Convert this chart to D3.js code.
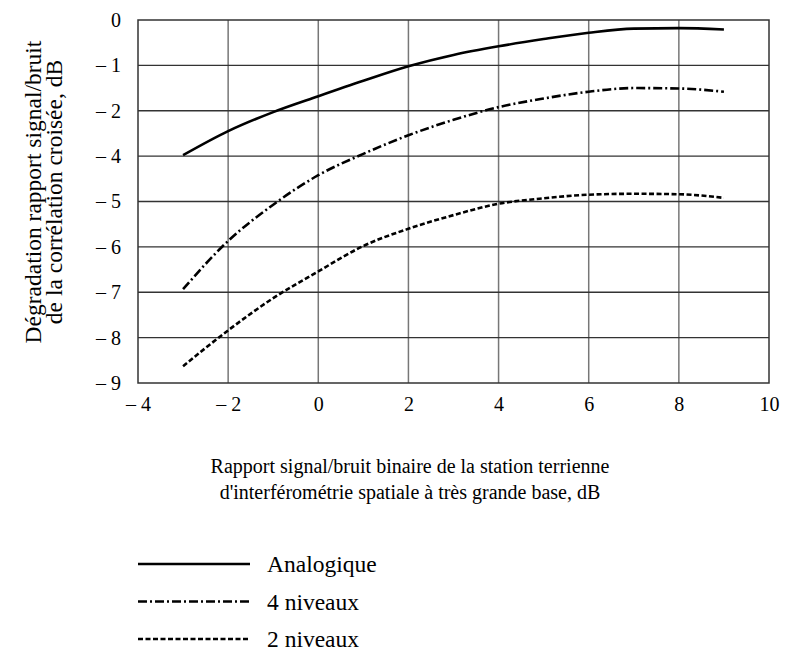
<!DOCTYPE html>
<html>
<head>
<meta charset="utf-8">
<script src="https://cdn.jsdelivr.net/npm/d3@7"></script>
<style>
  body { margin: 0; background: #fff; }
  text { font-family: "Liberation Serif", "Times New Roman", serif; fill: #000; }
</style>
</head>
<body>
<div id="chart"></div>
<script>
// data (y in axis positions, labels below keep the printed values)
var xValues = [-3, -2, -1, 0, 1, 2, 3, 4, 5, 6, 7, 8, 9];
var analogique = [-2.98, -2.45, -2.03, -1.68, -1.34, -1.02, -0.77, -0.58, -0.42, -0.28, -0.19, -0.18, -0.21];
var quatreNiveaux = [-5.93, -4.87, -4.07, -3.42, -2.95, -2.54, -2.2, -1.92, -1.73, -1.58, -1.5, -1.51, -1.58];
var deuxNiveaux = [-7.63, -6.84, -6.13, -5.54, -4.98, -4.6, -4.3, -4.05, -3.93, -3.85, -3.83, -3.84, -3.92];
var seriesNames = ["Analogique", "4 niveaux", "2 niveaux"];

var xTicks = [-4, -2, 0, 2, 4, 6, 8, 10];
var xTickLabels = ["\u2013 4", "\u2013 2", "0", "2", "4", "6", "8", "10"];
var yTicks = [0, -1, -2, -3, -4, -5, -6, -7, -8];
var yTickLabels = ["0", "\u2013 1", "\u2013 2", "\u2013 4", "\u2013 5", "\u2013 6", "\u2013 7", "\u2013 8", "\u2013 9"];

var width = 786, height = 651;
var margin = {top: 20, right: 17, bottom: 268, left: 138};
var serif = '"Liberation Serif", "Times New Roman", serif';

var svg = d3.select("#chart").append("svg")
  .attr("width", width)
  .attr("height", height);

// scales
var x = d3.scaleLinear().domain([-4, 10]).range([margin.left, width - margin.right]);
var y = d3.scaleLinear().domain([0, -8]).range([margin.top, height - margin.bottom]);

// grid
svg.append("g").selectAll("line")
  .data(xTicks.slice(1, -1))
  .enter().append("line")
    .attr("x1", function(d) { return x(d); })
    .attr("x2", function(d) { return x(d); })
    .attr("y1", y(0))
    .attr("y2", y(-8))
    .attr("stroke", "#777")
    .attr("stroke-width", 1.5);

svg.append("g").selectAll("line")
  .data(yTicks.slice(1, -1))
  .enter().append("line")
    .attr("x1", x(-4))
    .attr("x2", x(10))
    .attr("y1", function(d) { return y(d); })
    .attr("y2", function(d) { return y(d); })
    .attr("stroke", "#333")
    .attr("stroke-width", 1.3);

svg.append("rect")
  .attr("x", x(-4))
  .attr("y", y(0))
  .attr("width", x(10) - x(-4))
  .attr("height", y(-8) - y(0))
  .attr("fill", "none")
  .attr("stroke", "#333")
  .attr("stroke-width", 1.5);

// axes (labels only)
var xAxis = svg.append("g")
  .attr("transform", "translate(0," + (y(-8) + 11) + ")")
  .call(d3.axisBottom(x).tickValues(xTicks).tickSize(0)
    .tickFormat(function(d, i) { return xTickLabels[i]; }));
xAxis.attr("font-family", serif).attr("font-size", 20);
xAxis.select(".domain").remove();
xAxis.selectAll("text").style("font-family", serif).style("font-size", "20px");

var yAxis = svg.append("g")
  .attr("transform", "translate(" + (x(-4) - 14) + ",0)")
  .call(d3.axisLeft(y).tickValues(yTicks).tickSize(0)
    .tickFormat(function(d, i) { return yTickLabels[i]; }));
yAxis.attr("font-family", serif).attr("font-size", 20);
yAxis.select(".domain").remove();
yAxis.selectAll("text").style("font-family", serif).style("font-size", "20px");

// curves
var series = [
  {name: seriesNames[0], values: analogique, dash: null},
  {name: seriesNames[1], values: quatreNiveaux, dash: "9,3,2,3"},
  {name: seriesNames[2], values: deuxNiveaux, dash: "5,2.5"}
];

var line = d3.line()
  .curve(d3.curveMonotoneX)
  .x(function(d) { return x(d[0]); })
  .y(function(d) { return y(d[1]); });

series.forEach(function(s) {
  var pts = xValues.map(function(v, i) { return [v, s.values[i]]; });
  svg.append("path")
    .datum(pts)
    .attr("d", line)
    .attr("fill", "none")
    .attr("stroke", "#000")
    .attr("stroke-width", 2.6)
    .attr("stroke-dasharray", s.dash);
});

// axis titles
var xt = svg.append("text")
  .attr("text-anchor", "middle")
  .style("font-size", "20px");
xt.append("tspan").attr("x", 410).attr("y", 473).text("Rapport signal/bruit binaire de la station terrienne");
xt.append("tspan").attr("x", 410).attr("y", 499).text("d'interférométrie spatiale à très grande base, dB");

var yt = svg.append("text")
  .attr("text-anchor", "middle")
  .attr("transform", "translate(0,192) rotate(-90)")
  .style("font-size", "23.5px");
yt.append("tspan").attr("x", 0).attr("y", 41).text("Dégradation rapport signal/bruit");
yt.append("tspan").attr("x", 0).attr("y", 62).text("de la corrélation croisée, dB");

// legend
var legend = svg.append("g");
series.forEach(function(s, i) {
  var ly = 564 + i * 37.5;
  legend.append("line")
    .attr("x1", 138).attr("x2", 250)
    .attr("y1", ly).attr("y2", ly)
    .attr("stroke", "#000")
    .attr("stroke-width", 2.6)
    .attr("stroke-dasharray", s.dash);
  legend.append("text")
    .attr("x", 267).attr("y", ly + 8)
    .style("font-size", "23.5px")
    .text(s.name);
});
</script>
</body>
</html>
